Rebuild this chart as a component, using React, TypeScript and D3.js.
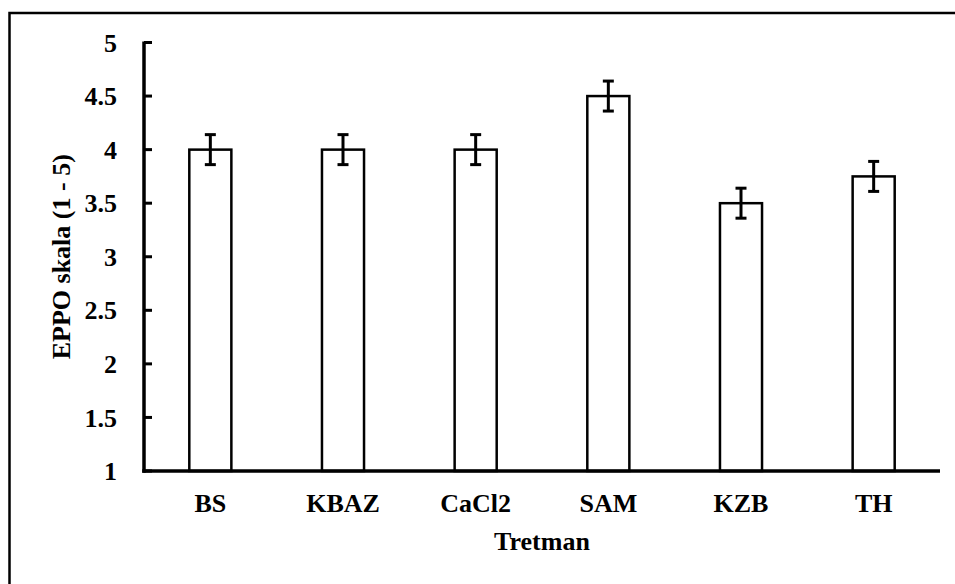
import React from "react";
import * as d3 from "d3";

const categories = ["BS", "KBAZ", "CaCl2", "SAM", "KZB", "TH"];
const values = [4.0, 4.0, 4.0, 4.5, 3.5, 3.75];
const errors = [0.14, 0.14, 0.14, 0.14, 0.14, 0.14];
const yTicks = [1, 1.5, 2, 2.5, 3, 3.5, 4, 4.5, 5];

const W = 955;
const H = 584;
const FONT = "'Liberation Serif', 'Times New Roman', Times, serif";

export default function App() {
  const x0 = 144;
  const x1 = 940;
  const yTop = 42.5;
  const yBot = 471;
  const x = d3.scaleBand<string>().domain(categories).range([x0, x1]).paddingInner(0.683).paddingOuter(0.3415);
  const y = d3.scaleLinear().domain([1, 5]).range([yBot, yTop]);
  const bw = x.bandwidth();
  const capW = 11;

  return (
    <svg
      width={W}
      height={H}
      style={{ position: "fixed", left: 0, top: 0, background: "#fff" }}
      fontFamily={FONT}
    >
      <rect x={0} y={0} width={W} height={H} fill="#fff" />
      <rect x={9.5} y={13} width={W + 20} height={H + 20} fill="none" stroke="#000" strokeWidth={2.5} />

      {categories.map((c, i) => {
        const bx = x(c)!;
        const cx = bx + bw / 2;
        const v = values[i];
        const e = errors[i];
        return (
          <g key={c}>
            <rect x={bx} y={y(v)} width={bw} height={y(1) - y(v)} fill="#fff" stroke="#000" strokeWidth={2.5} />
            <line x1={cx} x2={cx} y1={y(v + e)} y2={y(v - e)} stroke="#000" strokeWidth={3} />
            <line x1={cx - capW / 2} x2={cx + capW / 2} y1={y(v + e)} y2={y(v + e)} stroke="#000" strokeWidth={3} />
            <line x1={cx - capW / 2} x2={cx + capW / 2} y1={y(v - e)} y2={y(v - e)} stroke="#000" strokeWidth={3} />
            <text x={cx} y={512} textAnchor="middle" fontSize={26} fontWeight="bold" fill="#000">
              {c}
            </text>
          </g>
        );
      })}

      {/* y axis */}
      <line x1={x0} x2={x0} y1={yTop - 1} y2={yBot + 1.75} stroke="#000" strokeWidth={3.5} />
      {yTicks.map((t) => (
        <g key={t}>
          <line x1={x0} x2={x0 + 8} y1={y(t)} y2={y(t)} stroke="#000" strokeWidth={3} />
          <text x={117} y={y(t)} dy="0.35em" textAnchor="end" fontSize={26} fontWeight="bold" fill="#000">
            {t}
          </text>
        </g>
      ))}
      {/* x axis */}
      <line x1={x0 - 1.75} x2={x1} y1={yBot} y2={yBot} stroke="#000" strokeWidth={3.5} />

      <text x={(x0 + x1) / 2} y={550} textAnchor="middle" fontSize={26} fontWeight="bold" fill="#000">
        Tretman
      </text>
      <text
        transform={`translate(70, ${(yTop + yBot) / 2}) rotate(-90)`}
        textAnchor="middle"
        fontSize={26}
        fontWeight="bold"
        fill="#000"
      >
        EPPO skala (1 - 5)
      </text>
    </svg>
  );
}
